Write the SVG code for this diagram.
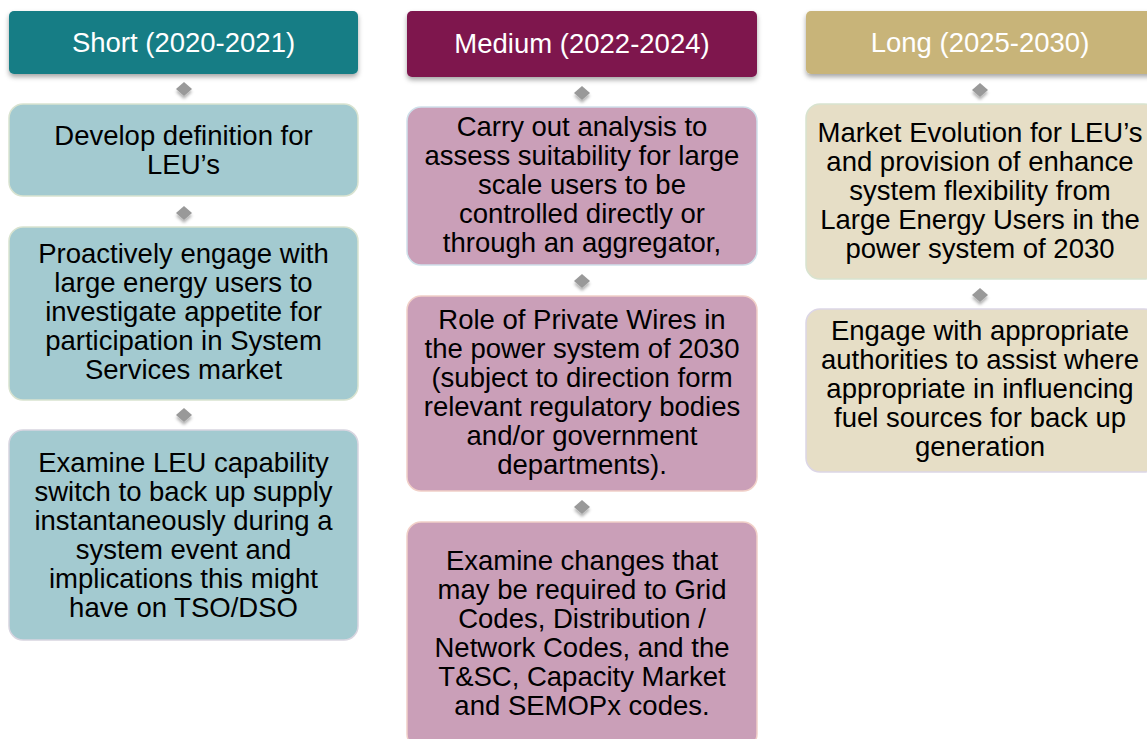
<svg xmlns="http://www.w3.org/2000/svg" width="1147" height="739" viewBox="0 0 1147 739">
<defs>
<filter id="hs" x="-5%" y="-20%" width="110%" height="150%">
<feDropShadow dx="0" dy="3" stdDeviation="2.5" flood-color="#000" flood-opacity="0.35"/>
</filter>
<filter id="ds" x="-50%" y="-50%" width="200%" height="220%">
<feDropShadow dx="0" dy="3" stdDeviation="1.5" flood-color="#000" flood-opacity="0.3"/>
</filter>
</defs>
<style>
text{font-family:"Liberation Sans",Arial,sans-serif;font-size:27.5px;text-anchor:middle}
.h text{fill:#fff}
.b text{fill:#000}
.h1{fill:#177D85}.h2{fill:#7E154E}.h3{fill:#C8B479}
.b1{fill:#A3CAD0;stroke:#D9E3D0;stroke-width:1.5}
.b2{fill:#CA9FB8;stroke:#F1D0C8;stroke-width:1.5}
.b3{fill:#E6DEC6;stroke:#D8E3CF;stroke-width:1.5}
.dm{fill:#999999;filter:url(#ds)}
</style>
<rect width="1147" height="739" fill="#fff"/>

<g id="connectors">
<polygon class="dm" points="184,82 192,89 184,96 176,89"/>
<polygon class="dm" points="184,206 192,213 184,220 176,213"/>
<polygon class="dm" points="184,408 192,415 184,422 176,415"/>
<polygon class="dm" points="582,86 590,93 582,100 574,93"/>
<polygon class="dm" points="582,274 590,281 582,288 574,281"/>
<polygon class="dm" points="582,500 590,507 582,514 574,507"/>
<polygon class="dm" points="980,83 988,90 980,97 972,90"/>
<polygon class="dm" points="980,288 988,295 980,302 972,295"/>
</g>

<g id="short-header" class="h">
<rect class="h1" x="9" y="11" width="349" height="63" rx="5" filter="url(#hs)"/>
<text x="183.5" y="52">Short (2020-2021)</text>
</g>
<g id="short-1" class="b">
<rect class="b1" x="9" y="104" width="349" height="92" rx="14"/>
<text x="183.5" y="145">Develop definition for</text>
<text x="183.5" y="174">LEU’s</text>
</g>
<g id="short-2" class="b">
<rect class="b1" x="9" y="227" width="349" height="173" rx="14"/>
<text x="183.5" y="263">Proactively engage with</text>
<text x="183.5" y="292">large energy users to</text>
<text x="183.5" y="321">investigate appetite for</text>
<text x="183.5" y="350">participation in System</text>
<text x="183.5" y="379">Services market</text>
</g>
<g id="short-3" class="b">
<rect class="b1" x="9" y="430" width="349" height="210" rx="14" style="stroke:#D8D5E0"/>
<text x="183.5" y="472">Examine LEU capability</text>
<text x="183.5" y="501">switch to back up supply</text>
<text x="183.5" y="530">instantaneously during a</text>
<text x="183.5" y="559">system event and</text>
<text x="183.5" y="588">implications this might</text>
<text x="183.5" y="617">have on TSO/DSO</text>
</g>

<g id="medium-header" class="h">
<rect class="h2" x="407" y="11" width="350" height="66" rx="5" filter="url(#hs)"/>
<text x="582" y="53">Medium (2022-2024)</text>
</g>
<g id="medium-1" class="b">
<rect class="b2" x="407" y="107" width="350" height="158" rx="14" style="stroke:#CFE0EA"/>
<text x="582" y="136">Carry out analysis to</text>
<text x="582" y="165">assess suitability for large</text>
<text x="582" y="194">scale users to be</text>
<text x="582" y="223">controlled directly or</text>
<text x="582" y="252">through an aggregator,</text>
</g>
<g id="medium-2" class="b">
<rect class="b2" x="407" y="296" width="350" height="195" rx="14"/>
<text x="582" y="329">Role of Private Wires in</text>
<text x="582" y="358">the power system of 2030</text>
<text x="582" y="387">(subject to direction form</text>
<text x="582" y="416">relevant regulatory bodies</text>
<text x="582" y="445">and/or government</text>
<text x="582" y="474">departments).</text>
</g>
<g id="medium-3" class="b">
<rect class="b2" x="407" y="522" width="350" height="226" rx="14"/>
<text x="582" y="570">Examine changes that</text>
<text x="582" y="599">may be required to Grid</text>
<text x="582" y="628">Codes, Distribution /</text>
<text x="582" y="657">Network Codes, and the</text>
<text x="582" y="686">T&amp;SC, Capacity Market</text>
<text x="582" y="715">and SEMOPx codes.</text>
</g>

<g id="long-header" class="h">
<rect class="h3" x="806" y="11" width="352" height="63" rx="5" filter="url(#hs)"/>
<text x="980" y="52">Long (2025-2030)</text>
</g>
<g id="long-1" class="b">
<rect class="b3" x="806" y="104" width="352" height="175" rx="14"/>
<text x="980" y="142">Market Evolution for LEU’s</text>
<text x="980" y="171">and provision of enhance</text>
<text x="980" y="200">system flexibility from</text>
<text x="980" y="229">Large Energy Users in the</text>
<text x="980" y="258">power system of 2030</text>
</g>
<g id="long-2" class="b">
<rect class="b3" x="806" y="309" width="352" height="163" rx="14" style="stroke:#DCD6E6"/>
<text x="980" y="340">Engage with appropriate</text>
<text x="980" y="369">authorities to assist where</text>
<text x="980" y="398">appropriate in influencing</text>
<text x="980" y="427">fuel sources for back up</text>
<text x="980" y="456">generation</text>
</g>
</svg>
